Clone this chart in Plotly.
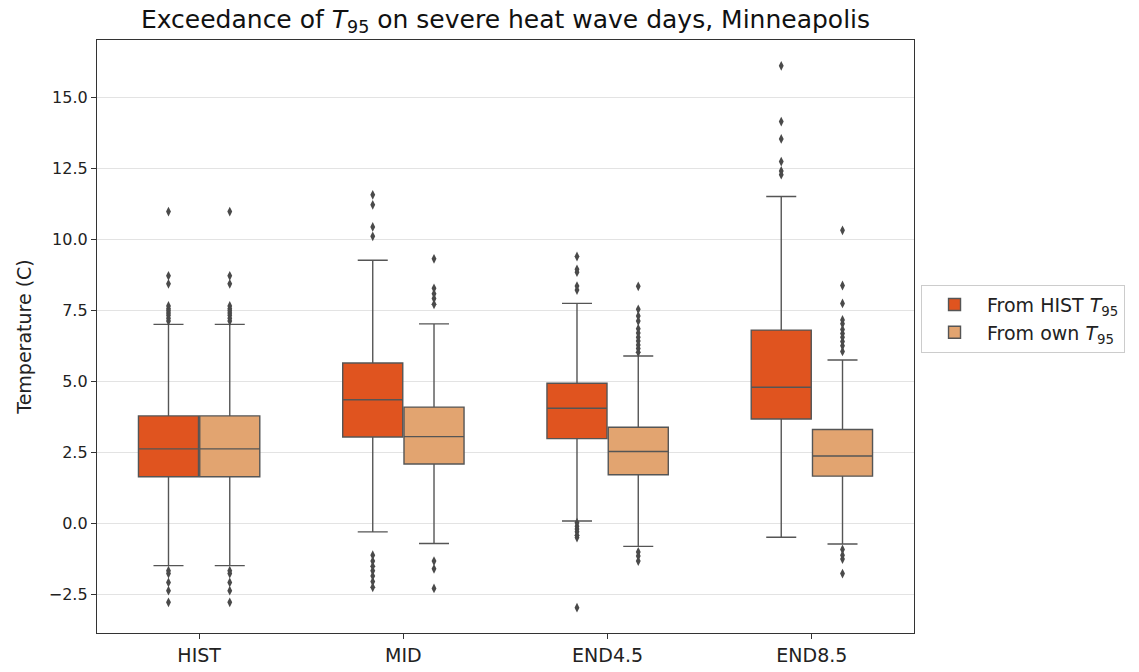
import plotly.graph_objects as go

categories = ["HIST", "MID", "END4.5", "END8.5"]

# From HIST T95
hist_q1 = [1.64, 3.04, 2.98, 3.67]
hist_median = [2.62, 4.35, 4.05, 4.79]
hist_q3 = [3.78, 5.64, 4.93, 6.80]
hist_low = [-1.49, -0.30, 0.08, -0.49]
hist_high = [7.00, 9.26, 7.74, 11.50]
hist_outliers = [
    [10.97, 8.71, 8.43, 7.65, 7.55, 7.48, 7.40, 7.32, 7.22, 7.12,
     -1.67, -1.77, -2.08, -2.37, -2.78],
    [11.56, 11.21, 10.43, 10.10,
     -1.12, -1.33, -1.51, -1.67, -1.85, -2.05, -2.25],
    [9.39, 8.94, 8.84, 8.35, 8.21,
     0.02, -0.10, -0.20, -0.30, -0.42, -0.50, -2.97],
    [16.10, 14.14, 13.53, 12.73, 12.40, 12.27],
]

# From own T95
own_q1 = [1.64, 2.09, 1.71, 1.66]
own_median = [2.62, 3.05, 2.53, 2.37]
own_q3 = [3.78, 4.09, 3.38, 3.30]
own_low = [-1.49, -0.71, -0.81, -0.73]
own_high = [7.00, 7.02, 5.89, 5.75]
own_outliers = [
    [10.97, 8.71, 8.43, 7.65, 7.55, 7.48, 7.40, 7.32, 7.22, 7.12,
     -1.67, -1.77, -2.08, -2.37, -2.78],
    [9.31, 8.27, 8.08, 7.91, 7.71,
     -1.33, -1.60, -2.29],
    [8.34, 7.53, 7.30, 7.12, 6.85, 6.70, 6.55, 6.42, 6.28, 6.15, 6.02,
     -1.01, -1.15, -1.33],
    [10.31, 8.37, 7.74, 7.16, 7.02, 6.82, 6.68, 6.55, 6.40, 6.25, 6.05,
     -0.92, -1.12, -1.26, -1.77],
]

y_ticks = [-2.5, 0.0, 2.5, 5.0, 7.5, 10.0, 12.5, 15.0]

series = [
    ("From HIST <i>T</i><sub>95</sub>", "#E0541F", -0.15,
     hist_q1, hist_median, hist_q3, hist_low, hist_high, hist_outliers),
    ("From own <i>T</i><sub>95</sub>", "#E2A470", 0.15,
     own_q1, own_median, own_q3, own_low, own_high, own_outliers),
]

edge = "#555555"
fig = go.Figure()
for name, color, off, q1, med, q3, lo, hi, outs in series:
    pos = [i + off for i in range(len(categories))]
    fig.add_trace(go.Box(
        x=pos, q1=q1, median=med, q3=q3, lowerfence=lo, upperfence=hi,
        width=0.294, whiskerwidth=0.5, fillcolor=color,
        line=dict(color=edge, width=1.4), name=name, boxpoints=False,
        hoverinfo="skip",
    ))
    ox, oy = [], []
    for p, vals in zip(pos, outs):
        ox += [p] * len(vals)
        oy += vals
    fig.add_trace(go.Scatter(
        x=ox, y=oy, mode="markers", showlegend=False, hoverinfo="skip",
        marker=dict(symbol="diamond-tall", size=7, color="#4a4a4a",
                    line=dict(width=0)),
    ))

fig.update_layout(
    width=1139, height=672,
    margin=dict(l=97, r=225, t=40, b=39, autoexpand=False),
    paper_bgcolor="white", plot_bgcolor="white",
    boxmode="overlay",
    font=dict(family="DejaVu Sans", color="#222222"),
    title=dict(text="Exceedance of <i>T</i><sub>95</sub> on severe heat wave days, Minneapolis",
               x=0.5, xref="paper", xanchor="center", y=0.985, yanchor="top",
               font=dict(size=25, color="#111111")),
    legend=dict(x=1.0086, y=0.53, xanchor="left", yanchor="middle",
                bordercolor="#cccccc", borderwidth=1, bgcolor="white",
                font=dict(size=19, color="#222222"), tracegroupgap=4,
                itemwidth=55),
)
fig.update_xaxes(
    range=[-0.5, 3.5], tickvals=list(range(len(categories))), ticktext=categories,
    showgrid=False, zeroline=False, showline=True, mirror=True,
    linecolor="#333333", linewidth=1.3, ticks="outside", ticklen=5,
    tickcolor="#333333", tickfont=dict(size=19), automargin=False,
)
fig.update_yaxes(
    range=[-3.86, 17.01], tickvals=y_ticks, tickformat=".1f",
    showgrid=True, gridcolor="#e3e3e3", gridwidth=1, zeroline=False,
    showline=True, mirror=True, linecolor="#333333", linewidth=1.3,
    ticks="outside", ticklen=5, tickcolor="#333333", tickfont=dict(size=16),
    title=dict(text="Temperature (C)", font=dict(size=19), standoff=12),
    automargin=False,
)

fig.write_html("out.html")
